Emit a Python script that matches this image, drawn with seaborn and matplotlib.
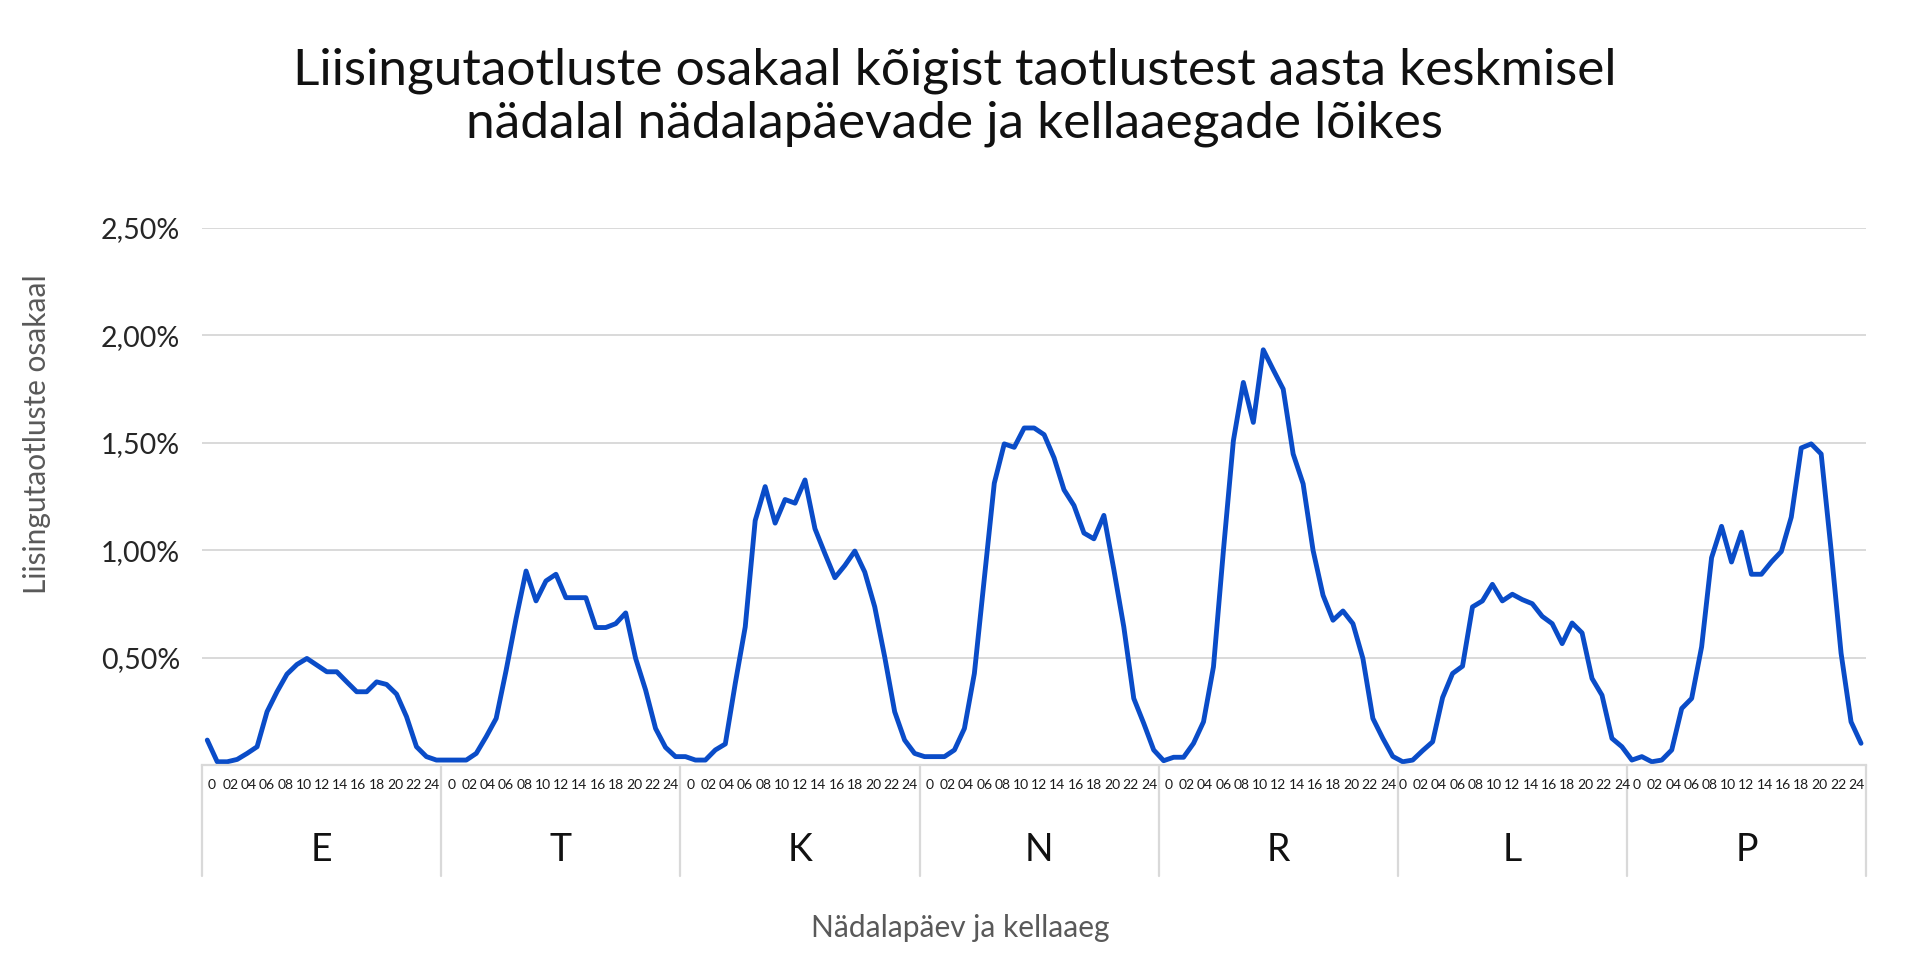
import numpy as np
import pandas as pd
import matplotlib
matplotlib.use("Agg")
import matplotlib.pyplot as plt
import matplotlib.transforms as mtransforms
import seaborn as sns

# ---------------- data ----------------
days = ["E", "T", "K", "N", "R", "L", "P"]
hour_tick_labels = ["0", "02", "04", "06", "08", "10", "12", "14", "16", "18", "20", "22", "24"]

E_vals = [0.116, 0.015, 0.015, 0.026, 0.054, 0.085, 0.248, 0.341, 0.423, 0.468, 0.496, 0.465,
          0.434, 0.434, 0.387, 0.341, 0.341, 0.387, 0.375, 0.330, 0.225, 0.085, 0.039, 0.023]
T_vals = [0.023, 0.023, 0.023, 0.054, 0.132, 0.217, 0.441, 0.682, 0.903, 0.764, 0.857, 0.888,
          0.779, 0.779, 0.779, 0.640, 0.640, 0.658, 0.708, 0.496, 0.349, 0.170, 0.082, 0.039]
K_vals = [0.039, 0.023, 0.023, 0.070, 0.098, 0.380, 0.643, 1.138, 1.296, 1.126, 1.236, 1.219,
          1.327, 1.100, 0.984, 0.872, 0.929, 0.996, 0.898, 0.736, 0.503, 0.248, 0.116, 0.054]
N_vals = [0.039, 0.039, 0.039, 0.070, 0.170, 0.426, 0.869, 1.312, 1.495, 1.479, 1.569, 1.569,
          1.538, 1.430, 1.281, 1.208, 1.080, 1.053, 1.162, 0.910, 0.643, 0.310, 0.194, 0.070]
R_vals = [0.020, 0.036, 0.036, 0.101, 0.201, 0.457, 0.999, 1.510, 1.781, 1.595, 1.933, 1.840,
          1.750, 1.448, 1.309, 0.999, 0.790, 0.674, 0.717, 0.658, 0.496, 0.217, 0.124, 0.040]
L_vals = [0.015, 0.023, 0.067, 0.108, 0.314, 0.426, 0.460, 0.736, 0.764, 0.841, 0.764, 0.795,
          0.770, 0.751, 0.692, 0.658, 0.565, 0.661, 0.615, 0.403, 0.325, 0.124, 0.085]
P_vals = [0.023, 0.039, 0.015, 0.023, 0.070, 0.263, 0.310, 0.550, 0.965, 1.111, 0.945, 1.084,
          0.888, 0.888, 0.945, 0.994, 1.154, 1.476, 1.495, 1.448, 1.000, 0.520, 0.201, 0.101]

y_ticks = [0.5, 1.0, 1.5, 2.0, 2.5]
y_tick_labels = ["0,50%", "1,00%", "1,50%", "2,00%", "2,50%"]

title = ("Liisingutaotluste osakaal kõigist taotlustest aasta keskmisel\n"
         "nädalal nädalapäevade ja kellaaegade lõikes")
y_label = "Liisingutaotluste osakaal"
x_label = "Nädalapäev ja kellaaeg"

# ---------------- style ----------------
sns.set_theme(style="white")
plt.rcParams["font.family"] = ["Lato", "DejaVu Sans"]

LINE_COLOR = "#0a4cc8"
GRID_COLOR = "#d9d9d9"
GRAY_TXT = "#595959"

series = [E_vals, T_vals, K_vals, N_vals, R_vals, L_vals, P_vals]
rows = []
pos = 0
day_bounds = [-0.5]
for day, vals in zip(days, series):
    for h, v in enumerate(vals):
        rows.append({"pos": pos, "day": day, "hour": h, "share": v})
        pos += 1
    day_bounds.append(pos - 0.5)
df = pd.DataFrame(rows)
n_total = len(df)

fig = plt.figure(figsize=(19.2, 9.68), dpi=100)
ax = fig.add_axes([0.10536, 0.20971, 0.86651, 0.55475])

sns.lineplot(data=df, x="pos", y="share", color=LINE_COLOR, linewidth=3.5, ax=ax)
for ln in ax.get_lines():
    ln.set_solid_joinstyle("round")
    ln.set_solid_capstyle("round")

ax.set_xlim(-0.5, n_total - 0.5)
ax.set_ylim(0, 2.5)
ax.set_xticks([])
ax.set_xlabel("")
ax.set_ylabel("")
ax.set_yticks(y_ticks)
ax.set_yticklabels(y_tick_labels, fontsize=20.5, color="#262626")
ax.tick_params(axis="y", length=0, pad=16)
ax.yaxis.grid(True, color=GRID_COLOR, linewidth=1.4)
ax.set_axisbelow(True)
for s in ["left", "right", "top"]:
    ax.spines[s].set_visible(False)
ax.spines["bottom"].set_color(GRID_COLOR)
ax.spines["bottom"].set_linewidth(1.6)

trans = mtransforms.blended_transform_factory(ax.transData, ax.transAxes)
sep_bottom = -0.2067
for b in day_bounds:
    ax.plot([b, b], [0, sep_bottom], transform=trans, color=GRID_COLOR,
            linewidth=1.6, clip_on=False)

label_step = 1.837
for i, day in enumerate(days):
    c = (day_bounds[i] + day_bounds[i + 1]) / 2
    for k, lab in enumerate(hour_tick_labels):
        ax.text(c + (k - 6) * label_step, -0.0372, lab, transform=trans,
                ha="center", va="center", fontsize=10, color="#1a1a1a")
    ax.text(c, -0.158, day, transform=trans, ha="center", va="center",
            fontsize=27, color="#111111")

fig.text(37 / 1920, 1 - 434 / 968, y_label, rotation=90, ha="center", va="center",
         fontsize=21.5, color=GRAY_TXT)
fig.text(960 / 1920, 1 - 928 / 968, x_label, ha="center", va="center",
         fontsize=21.5, color=GRAY_TXT)
fig.text(955 / 1920, 1 - 97 / 968, title, ha="center", va="center",
         fontsize=37, linespacing=1.18, color="#111111")

fig.savefig("out.png", dpi=100)
